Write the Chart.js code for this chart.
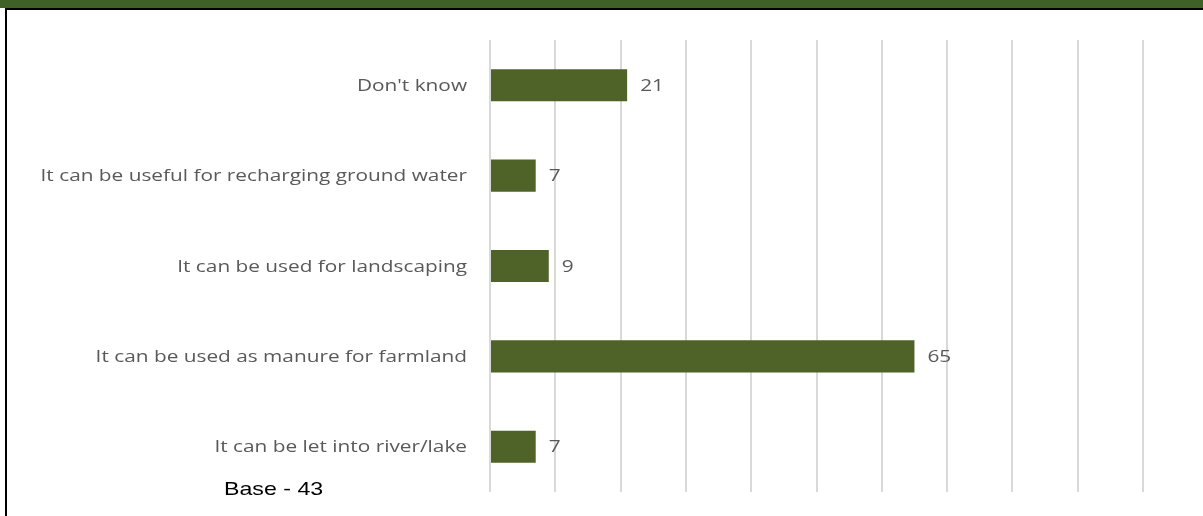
<!DOCTYPE html>
<html>
<head>
<meta charset="utf-8">
<script src="https://cdn.jsdelivr.net/npm/chart.js@4/dist/chart.umd.min.js"></script>
<style>
  body { margin: 0; background: #fff; }
  #wrap { position: relative; width: 1203px; height: 516px; overflow: hidden; }
  #band { position: absolute; left: 0; top: 0; width: 1203px; height: 8px; background: #3f6127; }
  #topline { position: absolute; left: 6px; top: 8px; width: 1197px; height: 2px; background: #000; }
  #leftline { position: absolute; left: 5px; top: 8px; width: 2px; height: 508px; background: #000; }
  #base { position: absolute; left: 224px; top: 478px; font-family: "Liberation Sans", Arial, sans-serif;
          font-size: 19px; color: #000; transform: scaleX(1.22); transform-origin: left top; }
  canvas { position: absolute; left: 0; top: 0; }
</style>
</head>
<body>
<div id="wrap">
  <canvas id="canvasChart" width="1203" height="516"></canvas>
  <div id="band"></div>
  <div id="topline"></div>
  <div id="leftline"></div>
  <div id="base">Base - 43</div>
</div>
<script>
var categories = [
    "Don't know",
    "It can be useful for recharging ground water",
    "It can be used for landscaping",
    "It can be used as manure for farmland",
    "It can be let into river/lake"
];
var values = [21, 7, 9, 65, 7];

// the reference text is stretched sideways, so draw it with a horizontal scale
var stretch = 1.3;
var textFont = '16px "Open Sans", sans-serif';

function stretchedText(ctx, text, x, y, align){
    ctx.save();
    ctx.translate(x, y);
    ctx.scale(stretch, 1);
    ctx.textAlign = align;
    ctx.fillText(text, 0, 0);
    ctx.restore();
}

var textLabels = {
    id: 'textLabels',
    afterDatasetsDraw: function(chart){
        var ctx = chart.ctx;
        var meta = chart.getDatasetMeta(0);
        var yScale = chart.scales.y;
        ctx.save();
        ctx.font = textFont;
        ctx.fillStyle = '#595959';
        ctx.textBaseline = 'middle';
        meta.data.forEach(function(bar, i){
            stretchedText(ctx, String(values[i]), bar.x + 13, bar.y + 1, 'left');
            stretchedText(ctx, categories[i], yScale.right - 23, yScale.getPixelForTick(i) + 1, 'right');
        });
        ctx.restore();
    }
};

var config = {
    type: 'bar',
    data: {
        labels: categories,
        datasets: [{
            data: values,
            backgroundColor: '#4f6228',
            categoryPercentage: 1,
            barPercentage: 0.355
        }]
    },
    options: {
        indexAxis: 'y',
        responsive: false,
        animation: false,
        layout: { padding: { top: 40, bottom: 24, right: 60, left: 0 } },
        plugins: { legend: { display: false }, tooltip: { enabled: false } },
        scales: {
            x: {
                min: 0,
                max: 100,
                ticks: { display: false, stepSize: 10 },
                grid: { color: '#d9d9d9', lineWidth: 2, drawTicks: false },
                border: { display: false }
            },
            y: {
                afterFit: function(scale){ scale.width = 490; },
                ticks: { display: false },
                grid: { display: false, drawTicks: false },
                border: { display: false }
            }
        }
    },
    plugins: [textLabels]
};

var ctx = document.getElementById('canvasChart').getContext('2d');
var chart = new Chart(ctx, config);
</script>
</body>
</html>
